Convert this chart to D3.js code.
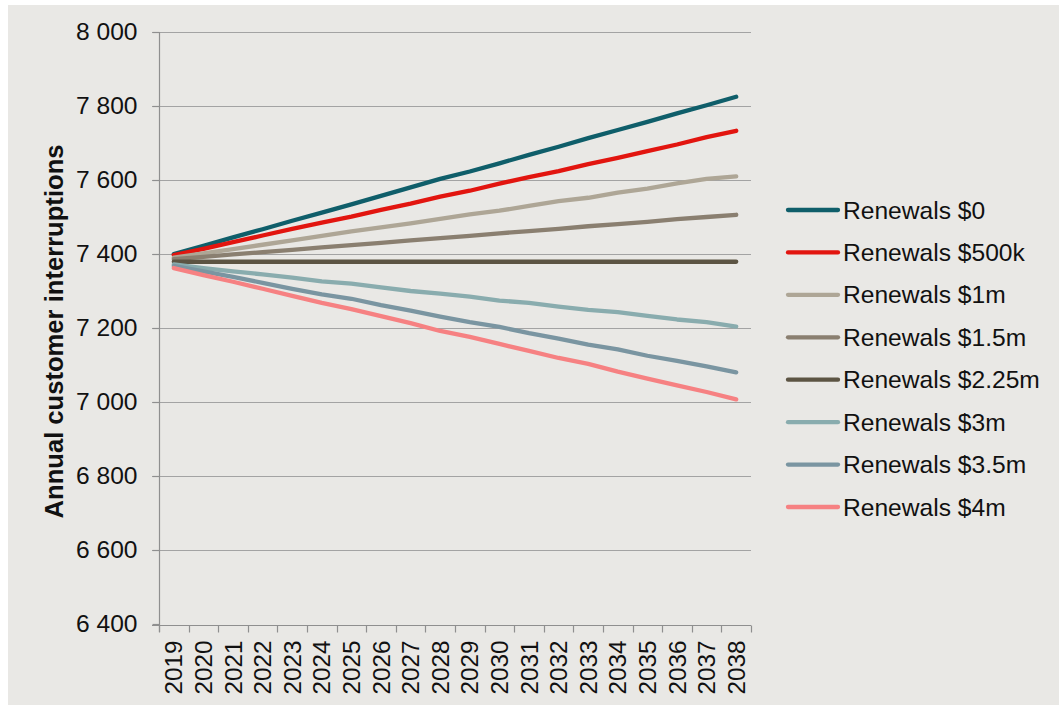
<!DOCTYPE html>
<html>
<head>
<meta charset="utf-8">
<script src="https://cdn.jsdelivr.net/npm/d3@7"></script>
<style>
  html, body { margin: 0; padding: 0; background: #ffffff; }
  svg { display: block; font-family: "Liberation Sans", Arial, sans-serif; }
</style>
</head>
<body>
<svg id="chart" width="1059" height="705"></svg>
<script>
// Years on the horizontal axis
const years = ["2019","2020","2021","2022","2023","2024","2025","2026","2027","2028",
               "2029","2030","2031","2032","2033","2034","2035","2036","2037","2038"];

// Scenario names (legend order)
const scenarios = ["Renewals $0","Renewals $500k","Renewals $1m","Renewals $1.5m",
                   "Renewals $2.25m","Renewals $3m","Renewals $3.5m","Renewals $4m"];

// Annual customer interruptions per scenario
const renewals0    = [7400,7422,7445,7467,7490,7512,7534,7557,7580,7603,7623,7645,7668,7690,7713,7735,7757,7780,7802,7825];
const renewals500k = [7397,7414,7432,7450,7468,7485,7501,7519,7536,7555,7571,7590,7608,7624,7643,7660,7678,7696,7716,7733];
const renewals1m   = [7390,7402,7413,7425,7437,7449,7461,7472,7483,7495,7507,7517,7530,7543,7552,7566,7577,7591,7603,7610];
const renewals1_5m = [7386,7392,7399,7405,7411,7418,7424,7430,7437,7443,7449,7456,7462,7468,7475,7481,7487,7494,7500,7506];
const renewals2_25m= [7379,7379,7379,7379,7379,7379,7379,7379,7379,7379,7379,7379,7379,7379,7379,7379,7379,7379,7379,7379];
const renewals3m   = [7372,7362,7353,7345,7336,7326,7320,7310,7300,7293,7285,7274,7268,7258,7249,7243,7233,7223,7216,7204];
const renewals3_5m = [7368,7353,7338,7322,7306,7291,7279,7262,7247,7231,7216,7203,7186,7171,7155,7142,7125,7111,7096,7080];
const renewals4m   = [7362,7343,7325,7306,7287,7268,7251,7232,7213,7192,7176,7157,7138,7119,7103,7082,7063,7045,7027,7007];

// Value axis ticks
const yTicks = [6400,6600,6800,7000,7200,7400,7600,7800,8000];

const seriesValues = [renewals0, renewals500k, renewals1m, renewals1_5m,
                      renewals2_25m, renewals3m, renewals3_5m, renewals4m];
const colors = ["#0f5e6a","#e2150f","#aea696","#8a7f70","#5c5443","#89acae","#7a95a1","#f68182"];

const svg = d3.select("#chart");

// panel background
svg.append("rect")
  .attr("x", 8).attr("y", 5)
  .attr("width", 1051).attr("height", 700)
  .attr("fill", "#e9e8e5");

const plot = { left: 159, right: 751, top: 32, bottom: 625 };

const x = d3.scaleBand().domain(years).range([plot.left, plot.right]);
const y = d3.scaleLinear().domain([6400, 8000]).range([plot.bottom - 1, plot.top]);

const fmt = d3.formatLocale({ decimal: ".", thousands: " ", grouping: [3], currency: ["", ""] }).format(",");

// horizontal gridlines
svg.append("g")
  .selectAll("line")
  .data(yTicks.filter(t => t !== 6400))
  .join("line")
  .attr("x1", plot.left - 7).attr("x2", plot.right)
  .attr("y1", d => Math.round(y(d)) + 0.5).attr("y2", d => Math.round(y(d)) + 0.5)
  .attr("stroke", "#a3a3a3").attr("stroke-width", 1.2);

// y axis
const yAxis = svg.append("g")
  .attr("transform", `translate(${plot.left + 0.5},0)`)
  .call(d3.axisLeft(y).tickValues(yTicks).tickFormat(fmt).tickSize(7).tickPadding(15).tickSizeOuter(0));
yAxis.select(".domain").attr("stroke", "#8f8f8f").attr("stroke-width", 1.2)
  .attr("d", `M0,${plot.top}V${plot.bottom + 7}`);
yAxis.selectAll(".tick line").attr("stroke", "#8f8f8f").attr("stroke-width", 1.2);
yAxis.selectAll(".tick text")
  .attr("font-size", 24.6).attr("fill", "#111").attr("font-family", "'Liberation Sans', Arial, sans-serif");

// x axis
const xAxis = svg.append("g")
  .attr("transform", `translate(0,${plot.bottom + 0.5})`)
  .call(d3.axisBottom(x).tickSize(0).tickSizeOuter(0));
xAxis.select(".domain").attr("stroke", "#8f8f8f").attr("stroke-width", 1.2)
  .attr("d", `M${plot.left - 7},0H${plot.right}`);
// tick marks at category boundaries
xAxis.append("g").selectAll("line")
  .data(years.map(yr => x(yr)).concat([plot.right]))
  .join("line")
  .attr("x1", d => Math.round(d) + 0.5).attr("x2", d => Math.round(d) + 0.5)
  .attr("y1", 0).attr("y2", 7)
  .attr("stroke", "#8f8f8f").attr("stroke-width", 1.2);
xAxis.selectAll(".tick text")
  .attr("font-size", 24.3).attr("fill", "#111")
  .attr("font-family", "'Liberation Sans', Arial, sans-serif")
  .attr("text-anchor", "end")
  .attr("transform", "rotate(-90)")
  .attr("x", -15).attr("y", 0).attr("dy", "0.35em");

// y axis title
svg.append("text")
  .attr("transform", `translate(54,${(plot.top + plot.bottom) / 2 + 3}) rotate(-90)`)
  .attr("text-anchor", "middle").attr("dy", "0.35em")
  .attr("font-size", 25.6).attr("font-weight", "bold").attr("fill", "#111")
  .text("Annual customer interruptions");

// series lines
const line = d3.line()
  .x((d, i) => x(years[i]) + x.bandwidth() / 2)
  .y(d => y(d));

svg.append("g")
  .selectAll("path")
  .data(seriesValues)
  .join("path")
  .attr("d", d => line(d))
  .attr("fill", "none")
  .attr("stroke", (d, i) => colors[i])
  .attr("stroke-width", 4.3)
  .attr("stroke-linecap", "round")
  .attr("stroke-linejoin", "round");

// legend
const legendY = d3.scalePoint().domain(scenarios).range([210, 507]);
const legend = svg.append("g")
  .selectAll("g")
  .data(scenarios)
  .join("g")
  .attr("transform", d => `translate(0,${legendY(d)})`);
legend.append("line")
  .attr("x1", 788).attr("x2", 838).attr("y1", 0).attr("y2", 0)
  .attr("stroke", (d, i) => colors[i]).attr("stroke-width", 4.3).attr("stroke-linecap", "round");
legend.append("text")
  .attr("x", 843).attr("y", 0).attr("dy", "0.35em")
  .attr("font-size", 24.6).attr("fill", "#111")
  .text(d => d);
</script>
</body>
</html>
